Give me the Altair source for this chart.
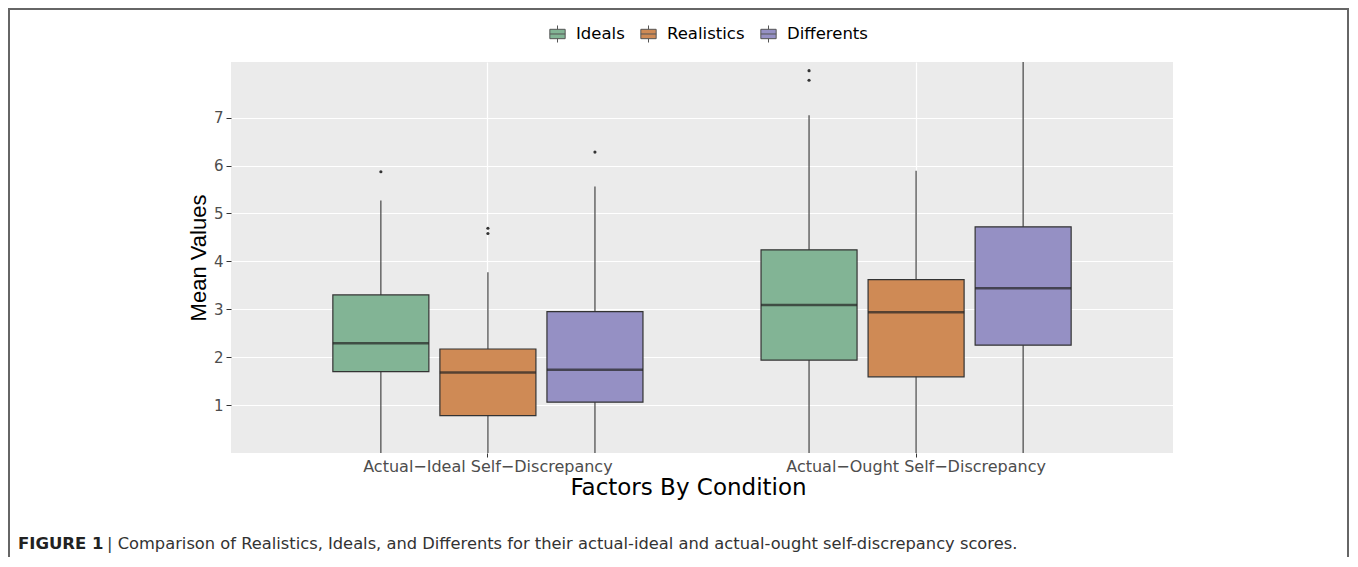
import altair as alt
import pandas as pd

conditions = ["Actual\u2212Ideal Self\u2212Discrepancy", "Actual\u2212Ought Self\u2212Discrepancy"]
groups = ["Ideals", "Realistics", "Differents"]
colors = ["#82B495", "#CF8A55", "#9590C4"]

# rows: condition, columns: groups (Ideals, Realistics, Differents)
lower = [[0.0, 0.0, 0.0], [0.0, 0.0, 0.0]]
q1 = [[1.70, 0.78, 1.06], [1.94, 1.59, 2.25]]
median = [[2.29, 1.68, 1.74], [3.09, 2.94, 3.44]]
q3 = [[3.30, 2.17, 2.95], [4.24, 3.62, 4.72]]
upper = [[5.27, 3.77, 5.56], [7.05, 5.89, 8.40]]

outlier_cond = [0, 0, 0, 0, 1, 1]
outlier_group = [0, 1, 1, 2, 0, 0]
outlier_val = [5.87, 4.69, 4.58, 6.28, 7.98, 7.78]

y_ticks = [1, 2, 3, 4, 5, 6, 7]
caption_bold = "FIGURE 1"
caption_text = "| Comparison of Realistics, Ideals, and Differents for their actual-ideal and actual-ought self-discrepancy scores."

rows = []
for ci, c in enumerate(conditions):
    for gi, g in enumerate(groups):
        rows.append(dict(condition=c, group=g, lower=lower[ci][gi], q1=q1[ci][gi],
                         median=median[ci][gi], q3=q3[ci][gi], upper=upper[ci][gi]))
box_df = pd.DataFrame(rows)
out_df = pd.DataFrame(dict(condition=[conditions[i] for i in outlier_cond],
                           group=[groups[i] for i in outlier_group],
                           value=outlier_val))

FONT = "Liberation Sans"
WIDE = "DejaVu Sans"
yscale = alt.Scale(domain=[0, 8.16], nice=False, zero=False)
xenc = alt.X("condition:N", sort=conditions,
             scale=alt.Scale(paddingInner=0, paddingOuter=0.1),
             axis=alt.Axis(title="Factors By Condition", labelAngle=0, labelFontSize=16,
                           labelColor="#4D4D4D", labelFont=WIDE, labelLimit=0,
                           tickColor="#333333", tickSize=4, domain=False, labelPadding=1,
                           titleFontSize=23, titleFont=WIDE, titleFontWeight="normal",
                           titleColor="#000000", titlePadding=2, titleX=457,
                           grid=True, gridColor="#FFFFFF", gridWidth=1.2))
xoff = alt.XOffset("group:N", sort=groups,
                   scale=alt.Scale(paddingInner=0.103, paddingOuter=0.5515))

base = alt.Chart(box_df)

whisk = base.mark_rule(color="#444444", strokeWidth=1.2, clip=True).encode(
    x=xenc, xOffset=xoff,
    y=alt.Y("lower:Q", scale=yscale,
            axis=alt.Axis(title="Mean Values", values=y_ticks, labelFontSize=15,
                          labelColor="#4D4D4D", labelFont=WIDE, tickColor="#333333",
                          tickSize=5, domain=False, labelPadding=3, titleFontSize=22,
                          titleFont=FONT, titleFontWeight="normal", titleColor="#000000",
                          titlePadding=3, grid=True, gridColor="#FFFFFF", gridWidth=1.2)),
    y2="upper:Q")

legend_symbol = "M-0.9,-0.55H0.9V0.55H-0.9Z M0,-1V-0.55 M0,0.55V1 M-0.9,0H0.9"
boxes = base.mark_bar(stroke="#333333", strokeWidth=1.2, opacity=1, clip=True).encode(
    x=xenc, xOffset=xoff,
    y=alt.Y("q1:Q", scale=yscale), y2="q3:Q",
    color=alt.Color("group:N", sort=groups,
                    scale=alt.Scale(domain=groups, range=colors),
                    legend=alt.Legend(title=None, orient="none", direction="horizontal",
                                      legendX=317, legendY=-38, labelFontSize=16.5,
                                      labelFont=WIDE, labelColor="#000000",
                                      symbolType=legend_symbol, symbolSize=290,
                                      symbolStrokeColor="#555555", symbolStrokeWidth=1,
                                      symbolOpacity=1, columnPadding=13, labelOffset=9)))

meds = base.mark_tick(color="#222222", thickness=2.5, size=96, clip=True).encode(
    x=xenc, xOffset=xoff, y=alt.Y("median:Q", scale=yscale))

outs = alt.Chart(out_df).mark_circle(color="#333333", size=10, opacity=1, clip=True).encode(
    x=xenc, xOffset=xoff, y=alt.Y("value:Q", scale=yscale))

one = pd.DataFrame({"bold": [caption_bold], "text": [caption_text]})
frame = alt.Chart(one).mark_rect(fillOpacity=0, stroke="#666666", strokeWidth=2).encode(
    x=alt.value(-222), x2=alt.value(1117), y=alt.value(-53), y2=alt.value(700))
cap1 = alt.Chart(one).mark_text(align="left", baseline="alphabetic", fontSize=16.5,
                                font=WIDE, fontWeight="bold", color="#222222").encode(
    x=alt.value(-213), y=alt.value(487), text="bold:N")
cap2 = alt.Chart(one).mark_text(align="left", baseline="alphabetic", fontSize=16.3,
                                font=WIDE, color="#333333").encode(
    x=alt.value(-124), y=alt.value(487), text="text:N")

chart = alt.layer(whisk, boxes, meds, outs, frame, cap1, cap2).properties(
    width=942, height=391,
    background="#FFFFFF",
    autosize=alt.AutoSizeParams(type="none"),
    padding={"left": 223, "top": 54, "right": 177, "bottom": 104},
).configure_view(fill="#EBEBEB", strokeWidth=0)

chart.save("out.html", embed_options={"renderer": "svg", "actions": False})
